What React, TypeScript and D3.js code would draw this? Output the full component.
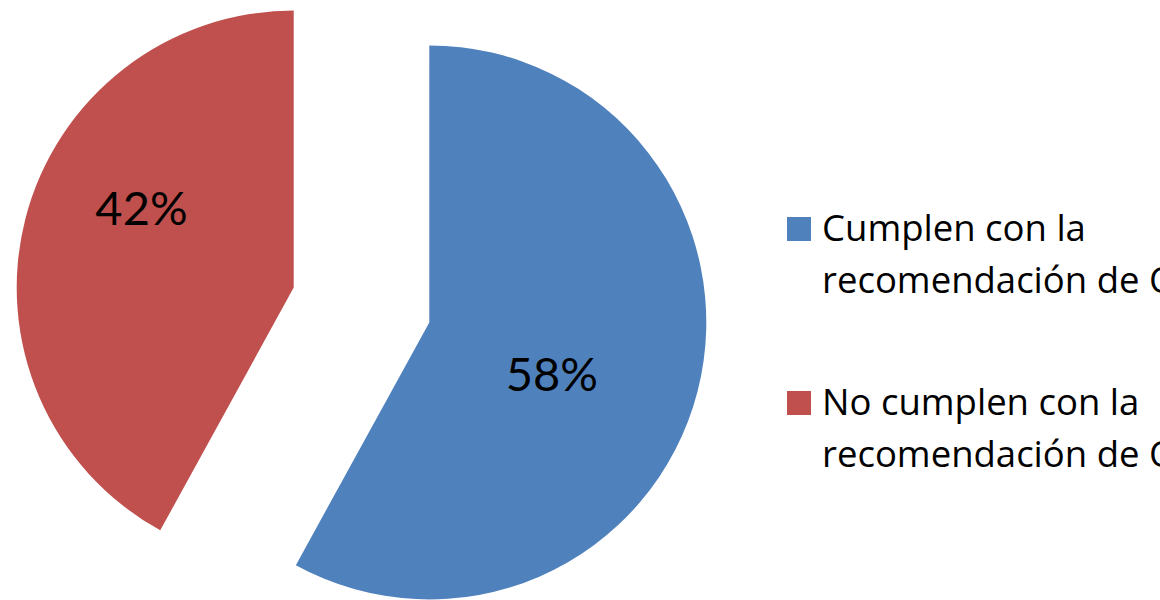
import React from "react";
import * as d3 from "d3";

const categories = ["Cumplen con la recomendación de OMS", "No cumplen con la recomendación de OMS"];
const legendLines = [
  ["Cumplen con la", "recomendación de OMS"],
  ["No cumplen con la", "recomendación de OMS"],
];
const values = [58, 42];
const labels = ["58%", "42%"];
const colors = ["#4F81BD", "#C0504D"];

const W = 1160;
const H = 600;
const cx = 361.5;
const cy = 305;
const R = 277;
const explode = 70;
const labelShift = [0.145, 0.23]; // radians, label angle shift within slice
const labelRadius = [0.48, 0.62];

export default function App() {
  const pie = d3.pie<number>().sort(null).startAngle(0).endAngle(2 * Math.PI);
  const arcs = pie(values);
  const arc = d3.arc<d3.PieArcDatum<number>>().innerRadius(0).outerRadius(R);
  const font = "Lato, 'Open Sans', sans-serif";
  const legendFont = "'Open Sans', Lato, sans-serif";
  return (
    <svg
      width={W}
      height={H}
      style={{ position: "absolute", left: 0, top: 0, overflow: "hidden", background: "#fff" }}
    >
      {arcs.map((a, i) => {
        const mid = (a.startAngle + a.endAngle) / 2;
        const ox = cx + Math.sin(mid) * explode;
        const oy = cy - Math.cos(mid) * explode;
        const la = mid + labelShift[i];
        const lr = R * labelRadius[i];
        const lx = Math.sin(la) * lr;
        const ly = -Math.cos(la) * lr;
        return (
          <g key={i} transform={`translate(${ox},${oy})`}>
            <path d={arc(a) as string} fill={colors[i]} />
            <text
              x={lx}
              y={ly + 17}
              textAnchor="middle"
              fontFamily={font}
              fontSize={47}
              fill="#000"
            >
              {labels[i]}
            </text>
          </g>
        );
      })}
      {categories.map((c, i) => {
        const y0 = 241 + i * 174;
        return (
          <g key={c}>
            <rect x={787} y={y0 - 24} width={24} height={24} fill={colors[i]} />
            {legendLines[i].map((t, j) => (
              <text
                key={j}
                x={822}
                y={y0 + j * 52}
                fontFamily={legendFont}
                fontSize={36.5}
                fill="#000"
              >
                {t}
              </text>
            ))}
          </g>
        );
      })}
    </svg>
  );
}
